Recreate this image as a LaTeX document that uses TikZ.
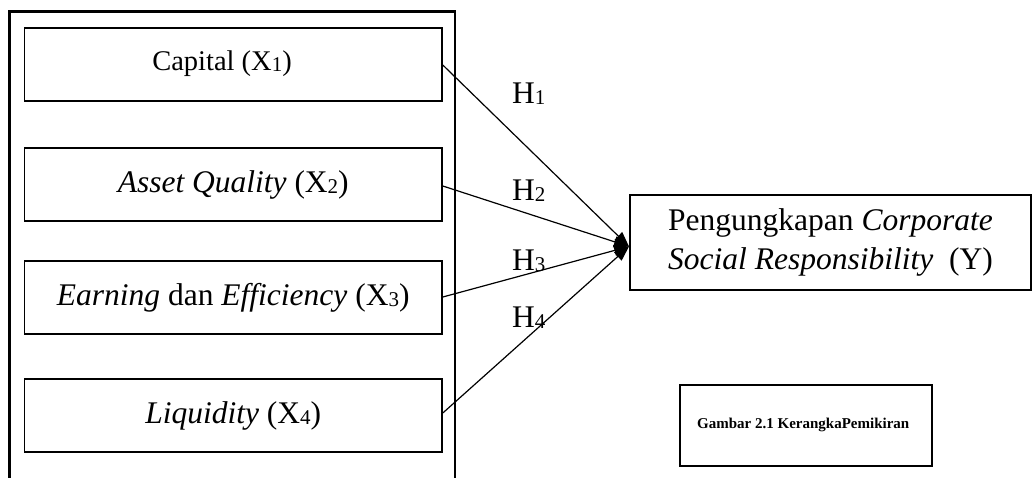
\documentclass[tikz,border=0pt]{standalone}
\usepackage{fontspec}
\setmainfont{Liberation Serif}
\usetikzlibrary{arrows.meta}
\newcommand{\sbs}[1]{{\fontsize{21}{21}\selectfont\raisebox{-1pt}{#1}}}
\tikzset{
  varbox/.style={draw, line width=1.6pt, minimum width=417.5pt, minimum height=73pt, inner sep=0pt, font=\fontsize{31.5}{36}\selectfont},
  link/.style={line width=1.2pt, -{Triangle[length=15pt,width=11pt]}},
  hlab/.style={anchor=base west, inner sep=0pt, font=\fontsize{31.5}{36}\selectfont}
}
\begin{document}
\begin{tikzpicture}[x=1pt,y=-1pt]
\useasboundingbox (0,0) rectangle (1033,477);
% outer frame
\draw[line width=2.5pt] (9.5,490) -- (9.5,11.5) -- (455,11.5) -- (455,490);
% variable boxes
\node[varbox] (x1) at (233.25,64.5) {};
\node[inner sep=0pt, font=\fontsize{28.5}{32}\selectfont] (x1t) at (222,63.5) {Capital (X\sbs{1})};
\node[varbox] (x2) at (233.25,184.5) {\textit{Asset Quality} (X\sbs{2})};
\node[varbox] (x3) at (233.25,297.5) {\textit{Earning} dan \textit{Efficiency} (X\sbs{3})};
\node[varbox] (x4) at (233.25,415.5) {\textit{Liquidity} (X\sbs{4})};
% dependent box
\node[draw, line width=1.6pt, minimum width=401pt, minimum height=95pt, inner sep=0pt,
      font=\fontsize{31.5}{39}\selectfont, align=center] (y) at (830.5,242.5)
      {Pengungkapan \textit{Corporate}\\\textit{Social Responsibility}\ \ (Y)};
% caption box
\node[draw, line width=1.6pt, minimum width=252pt, minimum height=81pt, inner sep=0pt] (cap) at (806,425.5) {};
\node[anchor=west, inner sep=0pt, font=\bfseries\fontsize{15}{17}\selectfont] (captxt) at (697,425) {Gambar 2.1 KerangkaPemikiran};
% connectors
\coordinate (tip) at (629,246.5);
\draw[link] (x1.east |- 0,65) -- (tip);
\draw[link] (x2.east |- 0,186) -- (tip);
\draw[link] (x3.east |- 0,297) -- (tip);
\draw[link] (x4.east |- 0,413) -- (tip);
% hypothesis labels
\node[hlab] (h1) at (512,103) {H\sbs{1}};
\node[hlab] (h2) at (512,200) {H\sbs{2}};
\node[hlab] (h3) at (512,270) {H\sbs{3}};
\node[hlab] (h4) at (512,327) {H\sbs{4}};
\end{tikzpicture}
\end{document}
